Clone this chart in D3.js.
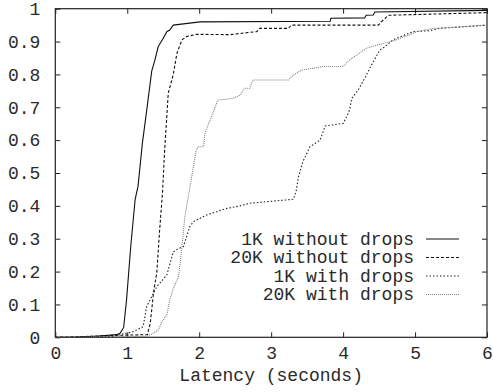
<!DOCTYPE html>
<html>
<head>
<meta charset="utf-8">
<script src="https://cdn.jsdelivr.net/npm/d3@7"></script>
<style>
body{margin:0;background:#fff;}
text{font-family:"Liberation Mono","Courier New",monospace;font-size:18px;fill:#2a2a2a;}
</style>
</head>
<body>
<svg id="chart" width="493" height="392"></svg>
<script>
// latency (s) / cumulative fraction
const oneKNoDropX=[0,0.3,0.6,0.85,0.9,0.95,0.99,1.05,1.11,1.15,1.21,1.27,1.34,1.385,1.43,1.5,1.55,1.59,1.64,2.01,3.82,3.83,4.3,4.32,4.42,4.44,6];
const oneKNoDropY=[0,0.001,0.004,0.008,0.012,0.03,0.113,0.28,0.42,0.46,0.59,0.69,0.81,0.844,0.884,0.91,0.93,0.935,0.95,0.96,0.962,0.971,0.972,0.98,0.981,0.99,0.995];

const twentyKNoDropX=[0,0.5,0.85,1.28,1.32,1.37,1.41,1.45,1.49,1.52,1.57,1.64,1.69,1.76,1.82,1.96,2.43,2.7,2.8,2.84,3.24,3.28,4.49,4.53,4.63,6];
const twentyKNoDropY=[0,0.003,0.006,0.008,0.043,0.144,0.195,0.326,0.44,0.57,0.743,0.8,0.864,0.905,0.915,0.922,0.921,0.928,0.93,0.94,0.94,0.95,0.95,0.96,0.98,0.988];

const oneKDropX=[0.2,0.8,1.08,1.22,1.27,1.34,1.41,1.45,1.55,1.64,1.71,1.78,1.87,1.92,2.1,2.38,2.57,2.7,3.31,3.35,3.38,3.44,3.54,3.68,3.75,4.0,4.05,4.09,4.12,4.21,4.3,4.37,4.51,4.58,4.69,4.97,5.2,5.34,6];
const oneKDropY=[0,0.003,0.017,0.032,0.093,0.124,0.154,0.164,0.19,0.26,0.27,0.276,0.337,0.352,0.372,0.392,0.4,0.408,0.42,0.448,0.489,0.534,0.58,0.6,0.643,0.651,0.671,0.692,0.727,0.753,0.788,0.819,0.874,0.884,0.905,0.93,0.933,0.94,0.95];

const twentyKDropX=[0,1.27,1.36,1.43,1.48,1.55,1.59,1.64,1.71,1.73,1.77,1.8,1.85,1.92,1.96,1.99,2.06,2.08,2.15,2.19,2.26,2.47,2.57,2.63,2.7,2.75,3.24,3.31,3.42,3.72,4.0,4.09,4.32,4.42,4.74,5.02,5.25,6];
const twentyKDropY=[0,0.003,0.012,0.022,0.047,0.068,0.114,0.149,0.184,0.215,0.296,0.367,0.43,0.519,0.57,0.58,0.58,0.621,0.661,0.682,0.722,0.727,0.737,0.758,0.758,0.783,0.783,0.798,0.813,0.824,0.824,0.844,0.879,0.886,0.905,0.93,0.94,0.95];

const seriesNames=["1K without drops","20K without drops","1K with drops","20K with drops"];
const xTicks=[0,1,2,3,4,5,6];
const yTicks=[0,0.1,0.2,0.3,0.4,0.5,0.6,0.7,0.8,0.9,1];
const yTickLabels=["0","0.1","0.2","0.3","0.4","0.5","0.6","0.7","0.8","0.9","1"];

const series=[
  {name:seriesNames[0],xs:oneKNoDropX,ys:oneKNoDropY,color:"#111",dash:null},
  {name:seriesNames[1],xs:twentyKNoDropX,ys:twentyKNoDropY,color:"#111",dash:"3,2"},
  {name:seriesNames[2],xs:oneKDropX,ys:oneKDropY,color:"#222",dash:"1.5,2"},
  {name:seriesNames[3],xs:twentyKDropX,ys:twentyKDropY,color:"#808080",dash:"1,1"}
];

const svg=d3.select("#chart");
const m={l:55.3,r:487,t:8.7,b:337.3};
const x=d3.scaleLinear().domain([0,6]).range([m.l,m.r]);
const y=d3.scaleLinear().domain([0,1]).range([m.b,m.t]);

// ticks on all four sides, pointing inward
const tk=5;
svg.append("g").attr("transform",`translate(0,${m.b})`)
  .call(d3.axisBottom(x).tickValues(xTicks).tickSizeInner(-tk).tickSizeOuter(0).tickPadding(9).tickFormat(d3.format("d")))
  .call(g=>g.select(".domain").remove());
svg.append("g").attr("transform",`translate(0,${m.t})`)
  .call(d3.axisTop(x).tickValues(xTicks).tickSizeInner(-tk).tickSizeOuter(0).tickFormat(""))
  .call(g=>g.select(".domain").remove());
svg.append("g").attr("transform",`translate(${m.l},0)`)
  .call(d3.axisLeft(y).tickValues(yTicks).tickSizeInner(-tk).tickSizeOuter(0).tickPadding(15).tickFormat((d,i)=>yTickLabels[i]))
  .call(g=>g.select(".domain").remove());
svg.append("g").attr("transform",`translate(${m.r},0)`)
  .call(d3.axisRight(y).tickValues(yTicks).tickSizeInner(-tk).tickSizeOuter(0).tickFormat(""))
  .call(g=>g.select(".domain").remove());
svg.selectAll(".tick line").attr("stroke","#222");
svg.selectAll("g").attr("font-family",null).attr("font-size",null);
svg.selectAll(".tick text").attr("fill","#2a2a2a");

svg.append("rect").attr("x",m.l).attr("y",m.t).attr("width",m.r-m.l).attr("height",m.b-m.t)
  .attr("fill","none").attr("stroke","#222").attr("stroke-width",1.2);

const line=d3.line().x(d=>x(d[0])).y(d=>y(d[1]));
series.forEach(s=>{
  const pts=s.xs.map((v,i)=>[v,s.ys[i]]);
  svg.append("path").datum(pts).attr("d",line).attr("fill","none")
    .attr("stroke",s.color).attr("stroke-width",1.1).attr("stroke-dasharray",s.dash);
});

// legend
const leg=svg.append("g");
series.forEach((s,i)=>{
  const cy=239+i*18.5;
  leg.append("text").attr("x",414).attr("y",cy).attr("dy","0.33em").attr("text-anchor","end").text(s.name);
  leg.append("line").attr("x1",426).attr("x2",459).attr("y1",cy).attr("y2",cy)
    .attr("stroke",s.color).attr("stroke-width",1.1).attr("stroke-dasharray",s.dash);
});

svg.append("text").attr("x",(m.l+m.r)/2).attr("y",381).attr("text-anchor","middle").text("Latency (seconds)");
</script>
</body>
</html>
